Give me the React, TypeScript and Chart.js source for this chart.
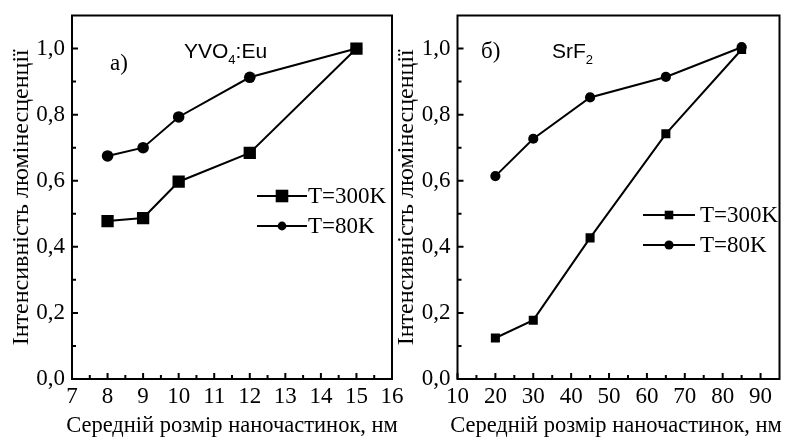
import React, { useEffect, useRef } from 'react';
import { Chart, registerables } from 'chart.js';

Chart.register(...registerables);

// ---------- data ----------
const seriesLabels = ['T=300K', 'T=80K'];
const xTitle = 'Середній розмір наночастинок, нм';
const yTitle = 'Інтенсивність люмінесценції';

const yTicks = [0, 0.2, 0.4, 0.6, 0.8, 1.0];

// panel a) YVO4:Eu
const sizesA = [8, 9, 10, 12, 15];
const t300A = [0.478, 0.487, 0.597, 0.684, 1.0];
const t80A = [0.675, 0.7, 0.793, 0.913, 1.0];
const xTicksA = [7, 8, 9, 10, 11, 12, 13, 14, 15, 16];

// panel б) SrF2
const sizesB = [20, 30, 45, 65, 85];
const t300B = [0.124, 0.178, 0.427, 0.742, 0.997];
const t80B = [0.614, 0.727, 0.852, 0.914, 1.004];
const xTicksB = [10, 20, 30, 40, 50, 60, 70, 80, 90];

const SERIF = "'Liberation Serif', 'Times New Roman', serif";
const SANS = "'Liberation Sans', Arial, sans-serif";

type Panel = {
  sizes: number[];
  s300: number[];
  s80: number[];
  xMin: number;
  xMax: number;
  xTicks: number[];
  padLeft: number;
  areaRight: number;
  sqR: number;
  ciR: number;
  xTitleX: number;
  legend: { x0: number; x1: number; xm: number; textX: number; rows: number[]; sqHalf: number; ciR: number };
  letter: { text: string; x: number; y: number };
  formula: { main: string; sub: string; tail: string; x: number; y: number };
};

const panelA: Panel = {
  sizes: sizesA,
  s300: t300A,
  s80: t80A,
  xMin: 7,
  xMax: 16,
  xTicks: xTicksA,
  padLeft: 0,
  areaRight: 392,
  sqR: 8.7,
  ciR: 5.8,
  xTitleX: 232,
  legend: { x0: 257, x1: 307, xm: 282, textX: 308, rows: [196, 226], sqHalf: 6.3, ciR: 4.4 },
  letter: { text: 'а)', x: 110, y: 63.5 },
  formula: { main: 'YVO', sub: '4', tail: ':Eu', x: 184, y: 52.5 },
};

const panelB: Panel = {
  sizes: sizesB,
  s300: t300B,
  s80: t80B,
  xMin: 10,
  xMax: 95,
  xTicks: xTicksB,
  padLeft: 385.5,
  areaRight: 779.5,
  sqR: 6.4,
  ciR: 5.1,
  xTitleX: 616,
  legend: { x0: 643, x1: 695, xm: 669, textX: 700, rows: [215, 245], sqHalf: 4.3, ciR: 4.6 },
  letter: { text: 'б)', x: 481, y: 52 },
  formula: { main: 'SrF', sub: '2', tail: '', x: 552, y: 52.5 },
};

const decorPlugin = {
  id: 'panelDecor',
  beforeDatasetsDraw(chart: any, _args: any, p: Panel) {
    const { ctx, chartArea } = chart;
    const { left, right, top, bottom } = chartArea;
    const xs = chart.scales.x;
    const ys = chart.scales.y;
    ctx.save();
    ctx.strokeStyle = '#000';
    ctx.lineWidth = 2;
    ctx.strokeRect(left, top, right - left, bottom - top);
    ctx.beginPath();
    // y ticks (inward)
    yTicks.forEach((v, i) => {
      const py = ys.getPixelForValue(v);
      ctx.moveTo(left, py);
      ctx.lineTo(left + 6, py);
      if (i < yTicks.length - 1) {
        const pm = ys.getPixelForValue((v + yTicks[i + 1]) / 2);
        ctx.moveTo(left, pm);
        ctx.lineTo(left + 4, pm);
      }
    });
    p.xTicks.forEach((v, i) => {
      const px = xs.getPixelForValue(v);
      ctx.moveTo(px, bottom);
      ctx.lineTo(px, bottom - 6);
      const next = i < p.xTicks.length - 1 ? p.xTicks[i + 1] : v + (v - p.xTicks[i - 1]);
      const mid = (v + next) / 2;
      if (mid < p.xMax) {
        const pm = xs.getPixelForValue(mid);
        ctx.moveTo(pm, bottom);
        ctx.lineTo(pm, bottom - 4);
      }
    });
    ctx.stroke();
    ctx.restore();
  },
  afterDraw(chart: any, _args: any, p: Panel) {
    const { ctx } = chart;
    ctx.save();
    ctx.fillStyle = '#000';
    ctx.strokeStyle = '#000';
    // x axis title (drawn without width compression)
    ctx.font = `22.5px ${SERIF}`;
    ctx.textAlign = 'center';
    ctx.textBaseline = 'middle';
    ctx.fillText(xTitle, p.xTitleX, 426);
    // legend
    const L = p.legend;
    chart.data.datasets.forEach((d: any, i: number) => {
      const y = L.rows[i];
      ctx.lineWidth = 2;
      ctx.beginPath();
      ctx.moveTo(L.x0, y);
      ctx.lineTo(L.x1, y);
      ctx.stroke();
      ctx.beginPath();
      if (d.pointStyle === 'rect') {
        ctx.rect(L.xm - L.sqHalf, y - L.sqHalf, L.sqHalf * 2, L.sqHalf * 2);
      } else {
        ctx.arc(L.xm, y, L.ciR, 0, Math.PI * 2);
      }
      ctx.fill();
      ctx.font = `23px ${SERIF}`;
      ctx.textBaseline = 'middle';
      ctx.textAlign = 'left';
      ctx.fillText(d.label, L.textX, y + 1);
    });
    // panel letter
    ctx.font = `23px ${SERIF}`;
    ctx.textBaseline = 'middle';
    ctx.textAlign = 'left';
    ctx.fillText(p.letter.text, p.letter.x, p.letter.y);
    // formula with subscript
    const f = p.formula;
    ctx.font = `21px ${SANS}`;
    ctx.fillText(f.main, f.x, f.y);
    let x = f.x + ctx.measureText(f.main).width;
    ctx.font = `13px ${SANS}`;
    ctx.fillText(f.sub, x, f.y + 8);
    x += ctx.measureText(f.sub).width;
    if (f.tail) {
      ctx.font = `21px ${SANS}`;
      ctx.fillText(f.tail, x, f.y);
    }
    ctx.restore();
  },
};

function makeChart(canvas: HTMLCanvasElement, p: Panel) {
  const tickFont = { family: SERIF, size: 23 };
  return new Chart(canvas, {
    type: 'line',
    data: {
      datasets: [
        {
          label: seriesLabels[0],
          data: p.sizes.map((x, i) => ({ x, y: p.s300[i] })),
          borderColor: '#000',
          backgroundColor: '#000',
          borderWidth: 2,
          pointStyle: 'rect',
          pointRadius: p.sqR,
          pointBackgroundColor: '#000',
          pointBorderColor: '#000',
          pointBorderWidth: 0,
          tension: 0,
        },
        {
          label: seriesLabels[1],
          data: p.sizes.map((x, i) => ({ x, y: p.s80[i] })),
          borderColor: '#000',
          backgroundColor: '#000',
          borderWidth: 2,
          pointStyle: 'circle',
          pointRadius: p.ciR,
          pointBackgroundColor: '#000',
          pointBorderColor: '#000',
          pointBorderWidth: 0,
          tension: 0,
        },
      ],
    } as any,
    options: {
      animation: false,
      responsive: false,
      devicePixelRatio: 1,
      layout: { padding: { left: p.padLeft, right: 787 - p.areaRight, top: 15.5, bottom: 0 } },
      plugins: {
        legend: { display: false },
        tooltip: { enabled: false },
        panelDecor: p,
      } as any,
      scales: {
        x: {
          type: 'linear',
          min: p.xMin,
          max: p.xMax,
          grid: { display: false, drawTicks: false },
          border: { display: false },
          ticks: { font: tickFont, color: '#000', padding: 4, maxRotation: 0, autoSkip: false, callback: (v: any) => String(v) },
          afterBuildTicks: (s: any) => {
            s.ticks = p.xTicks.map((v) => ({ value: v }));
          },
          afterFit: (s: any) => {
            s.height = 67;
            s.paddingLeft = 0;
            s.paddingRight = 0;
          },
          title: { display: false },
        },
        y: {
          type: 'linear',
          min: 0,
          max: 1.1,
          grid: { display: false, drawTicks: false },
          border: { display: false },
          ticks: {
            font: tickFont,
            color: '#000',
            padding: 7,
            autoSkip: false,
            callback: (v: any) => Number(v).toFixed(1).replace('.', ','),
          },
          afterBuildTicks: (s: any) => {
            s.ticks = yTicks.map((v) => ({ value: v }));
          },
          afterFit: (s: any) => {
            s.width = 72;
            s.paddingTop = 0;
            s.paddingBottom = 0;
          },
          title: { display: true, text: yTitle, font: { family: SERIF, size: 24 }, color: '#000', padding: { top: 7, bottom: 0 } },
        },
      },
    } as any,
    plugins: [decorPlugin as any],
  });
}

export default function App() {
  const refA = useRef<HTMLCanvasElement>(null);
  const refB = useRef<HTMLCanvasElement>(null);
  useEffect(() => {
    const a = makeChart(refA.current!, panelA);
    const b = makeChart(refB.current!, panelB);
    return () => {
      a.destroy();
      b.destroy();
    };
  }, []);
  const cs: React.CSSProperties = { position: 'absolute', left: 0, top: 0, width: 787, height: 446 };
  return (
    <div style={{ position: 'absolute', left: 0, top: 0, width: 787, height: 446, background: '#fff' }}>
      <canvas ref={refA} width={787} height={446} style={cs} />
      <canvas ref={refB} width={787} height={446} style={cs} />
    </div>
  );
}
